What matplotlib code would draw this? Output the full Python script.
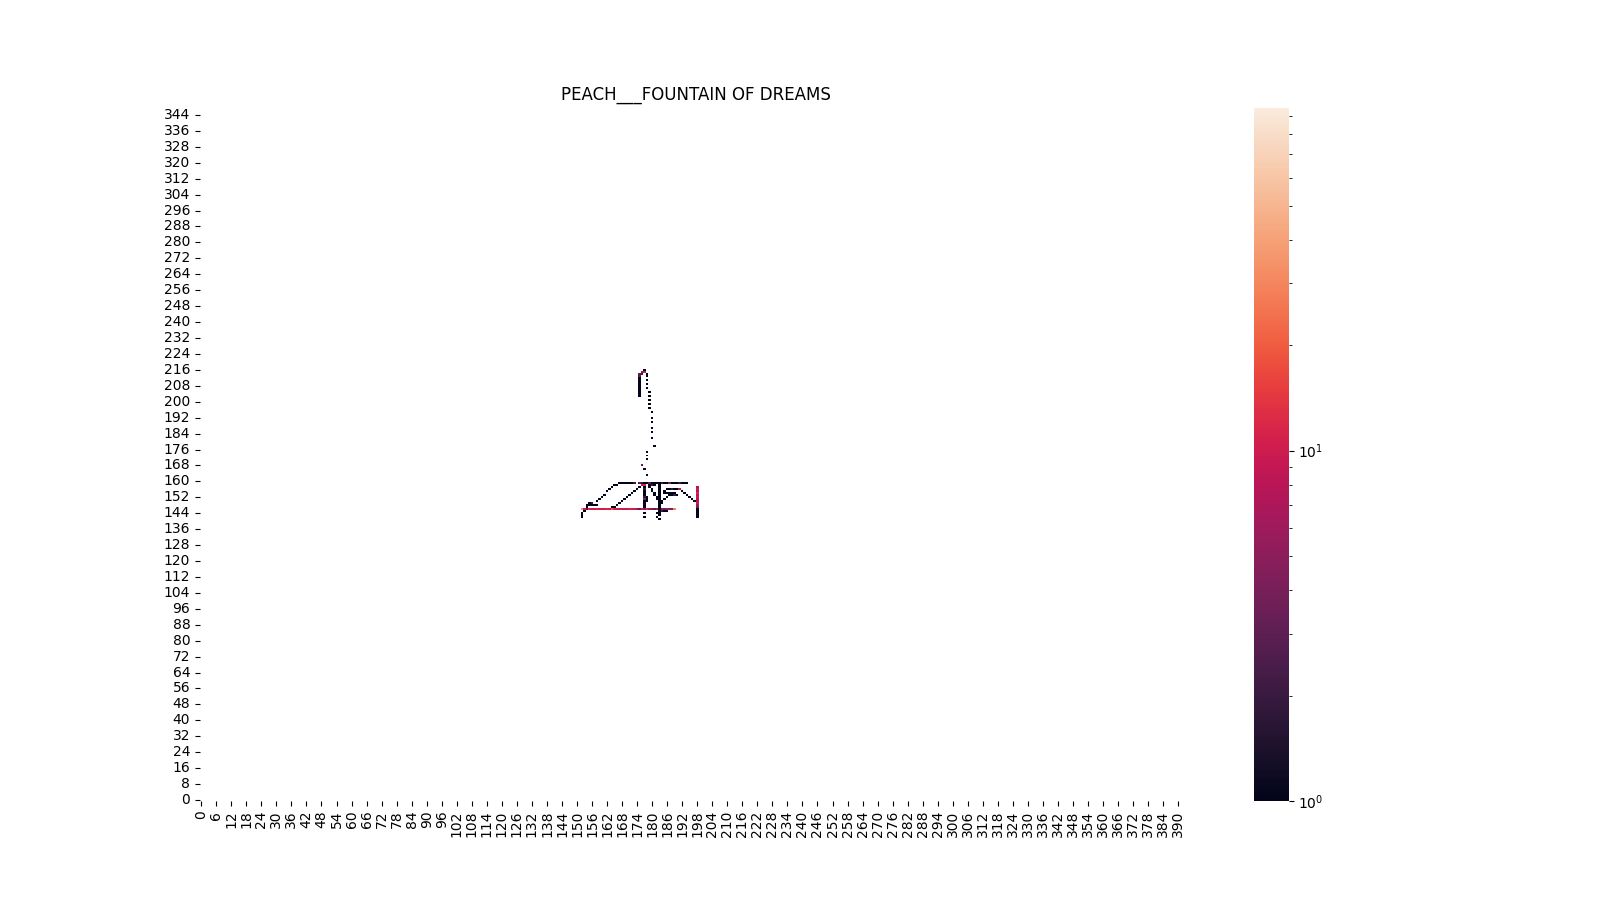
import numpy as np
import matplotlib
matplotlib.use('Agg')
import matplotlib.pyplot as plt
import seaborn as sns
from matplotlib.colors import LogNorm

# grid size of the stage histogram
n_cols = 396
n_rows = 348
title = 'PEACH___FOUNTAIN OF DREAMS'

# stem (col, row, count)
stem = [(177, 216, 1), (176, 215, 5), (177, 215, 10),
        (175, 214, 3), (176, 214, 2), (178, 214, 1),
        (175, 213, 3), (178, 213, 1),
        (175, 212, 1), (175, 211, 1), (175, 210, 1), (175, 209, 1), (175, 208, 1),
        (175, 207, 1), (175, 206, 1), (175, 205, 1), (175, 204, 1), (175, 203, 1),
        (178, 211, 1), (178, 209, 1), (178, 207, 1),
        (179, 205, 1), (179, 203, 1), (179, 201, 1), (179, 199, 1), (179, 197, 1),
        (180, 195, 1), (180, 192, 1), (180, 190, 1), (180, 187, 1), (180, 185, 1),
        (180, 182, 1), (181, 178, 1),
        (178, 175, 1), (178, 173, 1), (178, 171, 1),
        (176, 168, 3), (177, 166, 1), (178, 163, 1)]

# left arc and inner diagonal
left_arc = [(152, 142, 1), (152, 143, 1), (152, 144, 1), (153, 145, 1),
            (154, 147, 1), (154, 148, 1), (155, 148, 1), (156, 148, 1), (157, 148, 1),
            (158, 148, 1), (155, 149, 1), (156, 149, 2), (158, 150, 1), (159, 151, 1),
            (160, 152, 1), (161, 153, 1), (162, 155, 1), (163, 156, 1), (164, 157, 1),
            (165, 158, 1), (166, 158, 1), (167, 159, 1), (168, 159, 1), (169, 159, 1),
            (170, 159, 1), (171, 159, 1), (172, 159, 1), (173, 159, 2)]
diagonal = [(164, 147, 1), (165, 147, 1), (166, 148, 1), (167, 149, 1), (168, 150, 1),
            (169, 151, 1), (170, 152, 1), (171, 153, 1), (172, 154, 1), (173, 155, 1),
            (174, 156, 1), (175, 157, 1)]

# main floor line (row 146)
floor_cols = list(range(152, 190))
floor_vals = [35, 10, 3, 12, 10, 10, 12, 10, 10, 10, 12, 10, 20, 12, 10, 10, 10, 10,
              10, 12, 10, 10, 8, 3, 10, 5, 12, 6, 5, 3, 6, 1, 5, 4, 6, 5, 4, 30]
floor_row = 146

# center structure
center = [(176, 158, 8), (177, 158, 12), (177, 157, 1), (177, 156, 2), (177, 155, 1),
          (177, 154, 1), (177, 153, 1), (177, 152, 2), (177, 151, 4), (177, 150, 1),
          (177, 149, 1), (177, 148, 1), (177, 147, 1), (178, 152, 1), (178, 151, 1),
          (178, 150, 1), (177, 144, 1), (177, 142, 1),
          (179, 157, 1), (180, 156, 1), (180, 155, 1), (181, 154, 1), (181, 153, 1),
          (182, 152, 1), (182, 151, 1), (179, 158, 1), (180, 158, 2), (181, 158, 1)]
top_bar = [(175, 159, 3), (176, 159, 2), (177, 159, 1), (178, 159, 1), (179, 159, 3),
           (180, 159, 1), (181, 159, 1), (182, 159, 1), (183, 159, 1), (184, 159, 2),
           (185, 159, 1), (186, 159, 1), (187, 159, 4), (188, 159, 1), (189, 159, 1),
           (190, 159, 1), (191, 159, 2), (192, 159, 1), (193, 159, 1), (194, 159, 1)]
right_post = [(183, r, 1) for r in [158, 157, 156, 155, 154, 153, 152, 151, 150, 149,
                                    148, 147, 145, 144, 143, 141]]
right_post += [(184, 150, 1), (184, 149, 1), (182, 144, 1), (182, 142, 1),
               (184, 145, 2), (185, 145, 1), (186, 145, 1)]

# right arcs
right_arc = [(185, 154, 1), (185, 155, 1), (186, 156, 1), (187, 156, 1), (188, 156, 2),
             (189, 156, 1), (190, 156, 1), (191, 156, 8), (192, 155, 1), (193, 154, 1),
             (194, 153, 1), (195, 152, 1), (196, 151, 1), (197, 150, 1),
             (185, 151, 1), (186, 152, 1), (187, 153, 1), (188, 153, 1), (189, 153, 2),
             (190, 153, 1), (186, 154, 1), (187, 154, 1), (188, 154, 1), (189, 154, 1)]

# right wall
wall_rows = [157, 156, 155, 154, 153, 152, 151, 150, 149, 148, 147, 146, 145, 144, 143, 142]
wall_vals = [8, 10, 8, 12, 8, 10, 7, 8, 10, 6, 4, 1, 1, 1, 1, 1]
wall_col = 198

# build the count matrix
counts = np.zeros((n_rows, n_cols))
for c, r, v in stem + left_arc + diagonal + center + top_bar + right_post + right_arc:
    counts[r, c] = v
for c, v in zip(floor_cols, floor_vals):
    counts[floor_row, c] = v
for r, v in zip(wall_rows, wall_vals):
    counts[r, wall_col] = v

fig = plt.figure(figsize=(16, 9), dpi=100)
ax = sns.heatmap(counts, mask=counts == 0, norm=LogNorm(vmin=1, vmax=95),
                 xticklabels=6, yticklabels=8)
ax.invert_yaxis()
ax.set_title(title)
plt.setp(ax.get_yticklabels(), rotation=0)
plt.setp(ax.get_xticklabels(), rotation=90)
plt.savefig('out.png')
